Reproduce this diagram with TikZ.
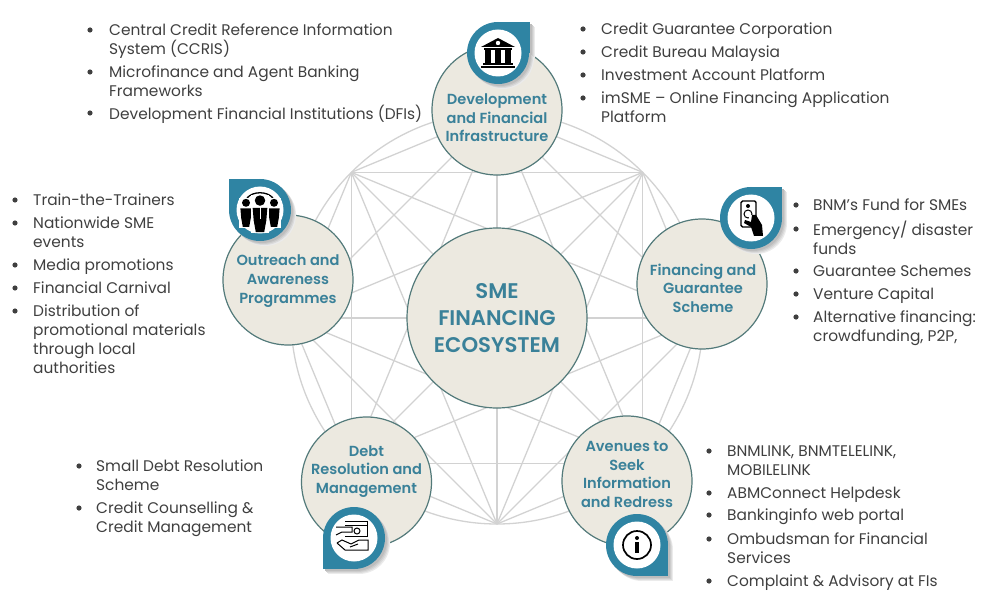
\documentclass[tikz,border=0pt]{standalone}
\usetikzlibrary{calc}
\usepackage{fontspec}
\setmainfont{Poppins}
\newfontfamily\headfont{Poppins SemiBold}
\setlength{\lineskiplimit}{-10pt}
\definecolor{tealtext}{HTML}{3A8199}
\definecolor{tealdrop}{HTML}{2F84A3}
\definecolor{rimgreen}{HTML}{537A7A}
\definecolor{discfill}{HTML}{ECE9E0}
\definecolor{meshgray}{HTML}{D2D2D2}
\definecolor{listgray}{HTML}{3F3F3F}
\tikzset{
  disc/.style={circle,draw=rimgreen,fill=discfill,line width=1.2pt,inner sep=0pt,minimum size=130pt},
  disctext/.style={inner sep=0pt,align=center,text=tealtext,font=\headfont\fontsize{14.6}{18.6}\selectfont},
  hub/.style={disc,minimum size=180pt},
  hubtext/.style={disctext,font=\headfont\fontsize{21.2}{27}\selectfont},
  iconball/.style={circle,fill=white,inner sep=0pt,minimum size=47pt},
  listline/.style={anchor=north west,inner sep=0pt,align=left,text=listgray,font=\fontsize{15.4}{19}\selectfont},
  mesh/.style={meshgray,line width=1.3pt}
}
% gota con esquina: centro exterior, esquina, centro blanco
\newcommand{\dropicon}[5]{
  \foreach \s/\c in {5/8,4/14,3/20,2/26}{
    \fill[black!\c] (#1+\s,#2+\s) circle (31);
    \fill[black!\c] (#1+\s,#2+\s) rectangle (#3+\s,#4+\s);
  }
  \fill[tealdrop] (#1,#2) circle (31);
  \fill[tealdrop] (#1,#2) rectangle (#3,#4);
  \node[iconball] (#5) at (#1,#2) {};
}
\newcommand{\itemlist}[4]{
  \foreach \y/\txt [count=\i] in {#4}{
    \fill[listgray] (#2,\y) circle (2.6);
    \node[listline] (#1\i) at (#3,\y-8.3) {\strut\txt};
  }
}
\begin{document}
\begin{tikzpicture}[x=1pt,y=-1pt]
  \useasboundingbox (0,0) rectangle (1000,612);

  % malla
  \coordinate (m) at (497,318);
  \foreach \i in {0,...,7}
    \coordinate (p\i) at ($(m)+(45*\i:206)$);
  \foreach \i in {0,...,6}{
    \pgfmathtruncatemacro{\first}{\i+1}
    \foreach \j in {\first,...,7}
      \draw[mesh] (p\i) -- (p\j);
  }
  \draw[mesh] (m) circle (206);

  % circulos
  \node[hub] (sme) at (497,318) {};
  \node[disc] (infra) at (497,110) {};
  \node[disc] (outreach) at (288,280) {};
  \node[disc] (finance) at (702,284) {};
  \node[disc] (debt) at (366.5,482) {};
  \node[disc] (redress) at (627,481) {};

  % textos
  \node[hubtext] (smetext) at (497,318) {SME\\FINANCING\\ECOSYSTEM};
  \node[disctext] (infratext) at (497,118) {Development\\and Financial\\Infrastructure};
  \node[disctext] (outreachtext) at (288,281) {Outreach and\\Awareness\\Programmes};
  \node[disctext] (financetext) at (703,288) {Financing and\\Guarantee\\Scheme};
  \node[disctext] (debttext) at (366.5,471.5) {Debt\\Resolution and\\Management};
  \node[disctext] (redresstext) at (627,474.5) {Avenues to\\Seek\\Information\\and Redress};

  % gotas
  \dropicon{498}{53}{530}{22}{bank}
  \dropicon{260}{210}{229}{179}{people}
  \dropicon{751}{218}{782}{187}{phone}
  \dropicon{354}{538}{323}{569}{money}
  \dropicon{637}{545}{668}{576}{info}

  % banco
  \begin{scope}[shift={(bank)}]
    \fill (-17,-6) -- (0,-15) -- (17,-6) -- cycle;
    \fill[white] (0,-10) circle (2.2);
    \fill (-14,-5) rectangle (14,-3);
    \foreach \x in {-10,0,10}
      \fill (\x-2.8,-3) rectangle (\x+2.8,10);
    \fill (-15,10) rectangle (15,12);
    \fill (-17,13) rectangle (17,15.5);
  \end{scope}
  % personas
  \begin{scope}[shift={(people)}]
    \draw[line width=1.3pt] (-13,-12) .. controls (-7,-19) and (7,-19) .. (13,-12);
    \foreach \x/\k in {-14/0.8,14/0.8,0/1.05}{
      \begin{scope}[xshift=\x,scale=\k]
        \fill[white] (-8.5,-14.5) rectangle (8.5,22);
        \fill (0,-9) circle (5);
        \fill (-7,-2) -- (7,-2) -- (6,10) -- (4,21) -- (-4,21) -- (-6,10) -- cycle;
      \end{scope}
    }
    \draw[white,line width=0.7pt] (0,-4) -- (0,9);
  \end{scope}
  % telefono y mano
  \begin{scope}[shift={(phone)}]
    \draw[line width=1.4pt,rounded corners=1.5pt] (-10,-17) rectangle (5,9);
    \draw[line width=1pt] (-3,-4) circle (4);
    \fill (-3,-12) circle (2);
    \fill[white] (-2,-3) rectangle (3,2);
    \fill (1,-3) -- (5,-3) -- (11,7) -- (12,18) -- (3,18) -- (0,9) -- (-7,5) -- (-6,2) -- (0,4) -- cycle;
  \end{scope}
  % billete y mano
  \begin{scope}[shift={(money)},line width=1pt]
    \draw (-9,-17) -- (13,-17) -- (13,-2) -- (-9,-2);
    \draw (-9,-13) -- (13,-13);
    \draw (3,-7) circle (3);
    \draw (-18,-11) -- (-2,-11) -- (-2,-6) -- (-12,-6) -- (-18,-3);
    \draw (-17,5) -- (-9,12) -- (14,12) -- (14,2) -- (5,2) -- (-3,6) (4,6) -- (-4,9);
    \draw (-17,5) -- (-12,2) -- (-3,6);
  \end{scope}
  % informacion
  \begin{scope}[shift={(info)}]
    \draw[line width=1.7pt] (0,0) circle (14);
    \fill (0,-7) circle (2);
    \fill (-2,-3) rectangle (2,8);
  \end{scope}

  % listas
  \itemlist{credit}{90}{109}{30/{Central Credit Reference Information\\System (CCRIS)},72/{Microfinance and Agent Banking\\Frameworks},113/{Development Financial Institutions (DFIs)}}
  \itemlist{bureau}{583}{601}{29/{Credit Guarantee Corporation},52/{Credit Bureau Malaysia},75/{Investment Account Platform},98/{imSME -- Online Financing Application\\Platform}}
  \itemlist{train}{15}{33}{200/{Train-the-Trainers},223/{Nationwide SME\\events},265/{Media promotions},288/{Financial Carnival},311/{Distribution of\\promotional materials\\through local\\authorities}}
  \itemlist{fund}{796}{813}{205/{BNM's Fund for SMEs},229/{Emergency/ disaster\\funds},271/{Guarantee Schemes},294/{Venture Capital},317/{Alternative financing:\\crowdfunding, P2P,}}
  \itemlist{small}{79}{96}{466/{Small Debt Resolution\\Scheme},508/{Credit Counselling \&\\Credit Management}}
  \itemlist{link}{709}{727}{451/{BNMLINK, BNMTELELINK,\\MOBILELINK},493/{ABMConnect Helpdesk},515/{Bankinginfo web portal},539/{Ombudsman for Financial\\Services},581/{Complaint \& Advisory at FIs}}
\end{tikzpicture}
\end{document}
